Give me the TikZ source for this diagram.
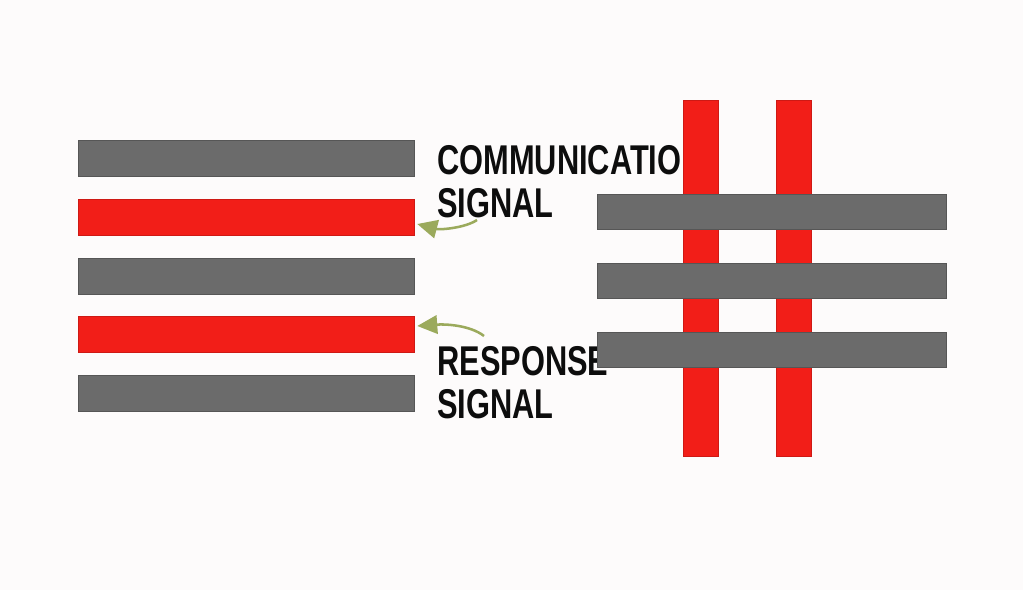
\documentclass[tikz,border=0pt]{standalone}
\usepackage{fontspec}
\usepackage{xcolor}
\usepackage{tikz}
\usetikzlibrary{arrows.meta, positioning, calc}
\newfontfamily\labelfont[FakeStretch=0.74]{Liberation Sans}
\definecolor{barred}{RGB}{242, 30, 24}
\definecolor{bargray}{RGB}{107, 107, 107}
\definecolor{arrowolive}{RGB}{155, 170, 92}
\definecolor{paper}{RGB}{253, 251, 251}

\begin{document}
\begin{tikzpicture}[x=0.025cm, y=-0.025cm,
  graybar/.style={rectangle, inner sep=0, fill=bargray, draw=bargray!80!black, line width=0.3pt,
    minimum width=8.4cm, minimum height=0.9cm},
  redbar/.style={graybar, fill=barred, draw=barred!85!black},
  crossbar/.style={graybar, minimum width=8.725cm, minimum height=0.875cm},
  postbar/.style={redbar, minimum width=0.875cm, minimum height=8.9cm},
  siglabel/.style={inner sep=0, anchor=base west, text=black!95,
    font=\labelfont\bfseries\fontsize{29.6}{35}\selectfont},
  sigarrow/.style={draw=arrowolive, line width=1.8pt,
    -{Triangle[length=0.5cm, width=0.46cm, fill=arrowolive]}}]
% Canvas
\fill[paper] (0,0) rectangle (1023,590);
\useasboundingbox (0,0) rectangle (1023,590);
% Left stack
\node[graybar] (g1) at (246,158) {};
\node[redbar]  (r1) at (246,217) {};
\node[graybar] (g2) at (246,276) {};
\node[redbar]  (r2) at (246,334) {};
\node[graybar] (g3) at (246,393) {};
% Labels
\node[siglabel] (commtop) at (437,175) {COMMUNICATIO};
\node[siglabel] (commsig) at (437,218) {SIGNAL};
\node[siglabel] (resptop) at (437,375) {RESPONSE};
\node[siglabel] (respsig) at (437,418) {SIGNAL};
% Grid on the right
\node[postbar] (p1) at (700.5,278) {};
\node[postbar] (p2) at (794,278) {};
\node[crossbar] (c1) at (771.5,211.5) {};
\node[crossbar] (c2) at (771.5,280.5) {};
\node[crossbar] (c3) at (771.5,349.5) {};
% Arrows
\coordinate (commtail) at (477,220);
\coordinate (resptail) at (484,336);
\draw[sigarrow] (commtail) .. controls (465,228) and (440,230) .. ($(r1.east)+(3,7)$);
\draw[sigarrow] (resptail) .. controls (470,325) and (445,324) .. ($(r2.east)+(3,-8)$);
\end{tikzpicture}
\end{document}
